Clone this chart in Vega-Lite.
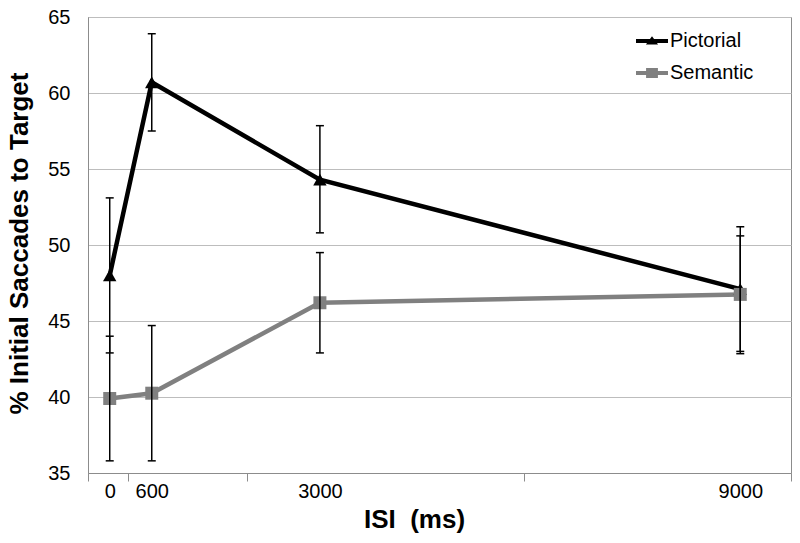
{
  "$schema": "https://vega.github.io/schema/vega-lite/v6.json",
  "width": 703,
  "height": 456,
  "autosize": {"type": "none"},
  "padding": {"left": 88, "top": 17, "right": 9, "bottom": 70},
  "config": {"font": "Liberation Sans", "view": {"stroke": "#8c8c8c", "strokeWidth": 1}},
  "data": {"values": [
    {"cond": "Pictorial", "isi": 0, "pct": 48.0, "lo": 42.9, "hi": 53.1},
    {"cond": "Pictorial", "isi": 600, "pct": 60.7, "lo": 57.5, "hi": 63.9},
    {"cond": "Pictorial", "isi": 3000, "pct": 54.3, "lo": 50.8, "hi": 57.85},
    {"cond": "Pictorial", "isi": 9000, "pct": 47.1, "lo": 43.0, "hi": 51.2},
    {"cond": "Semantic", "isi": 0, "pct": 39.9, "lo": 35.8, "hi": 44.0},
    {"cond": "Semantic", "isi": 600, "pct": 40.25, "lo": 35.8, "hi": 44.7},
    {"cond": "Semantic", "isi": 3000, "pct": 46.2, "lo": 42.9, "hi": 49.5},
    {"cond": "Semantic", "isi": 9000, "pct": 46.75, "lo": 42.85, "hi": 50.6}
  ]},
  "encoding": {
    "x": {
      "field": "isi", "type": "quantitative",
      "scale": {"domain": [-310, 9724], "nice": false, "zero": false},
      "axis": {
        "title": "ISI\u00a0 (ms)",
        "values": [-310, 0, 261, 600, 1961, 3000, 5914, 9000, 9724],
        "labelExpr": "indexof([0,600,3000,9000], datum.value) >= 0 ? '' + datum.value : ''",
        "grid": false,
        "domainColor": "#8c8c8c",
        "tickColor": "#8c8c8c",
        "tickSize": 8,
        "tickOpacity": {"condition": {"test": "indexof([0,600,3000,9000], datum.value) >= 0", "value": 0}, "value": 1},
        "labelFontSize": 20,
        "labelColor": "#000000",
        "labelFlush": false,
        "labelOverlap": false,
        "labelPadding": 0,
        "titleFontSize": 26,
        "titleFontWeight": "bold",
        "titleColor": "#000000",
        "titleBaseline": "middle",
        "titleAlign": "center",
        "titleX": 326,
        "titleY": 46
      }
    },
    "y": {
      "field": "pct", "type": "quantitative",
      "title": "% Initial Saccades to Target",
      "scale": {"domain": [35, 65], "nice": false, "zero": false},
      "axis": {
        "values": [35, 40, 45, 50, 55, 60, 65],
        "grid": true,
        "gridColor": "#bdbdbd",
        "domainColor": "#8c8c8c",
        "ticks": false,
        "labelFontSize": 20,
        "labelPadding": 18,
        "labelColor": "#000000",
        "titleFontSize": 26,
        "titleFontWeight": "bold",
        "titleColor": "#000000",
        "titleBaseline": "alphabetic",
        "titleX": -61,
        "titleY": 226
      }
    }
  },
  "layer": [
    {
      "mark": {"type": "line", "strokeWidth": 4.5},
      "encoding": {
        "color": {
          "field": "cond", "type": "nominal",
          "scale": {"domain": ["Pictorial", "Semantic"], "range": ["#000000", "#808080"]},
          "legend": {
            "orient": "none", "legendX": 548, "legendY": 8, "title": null,
            "labelFontSize": 20, "labelColor": "#000000", "labelOffset": 2,
            "symbolSize": 1024, "rowPadding": 6, "padding": 0,
            "encode": {"symbols": {"update": {
              "shape": {"signal": "datum.value === 'Pictorial' ? 'M-1,-0.125L1,-0.125L1,0.125L-1,0.125Z M-0.38,0.22L0,-0.3L0.38,0.22Z' : 'M-1,-0.125L1,-0.125L1,0.125L-1,0.125Z M-0.37,-0.32L0.37,-0.32L0.37,0.32L-0.37,0.32Z'"},
              "fill": {"signal": "datum.value === 'Pictorial' ? '#000000' : '#808080'"},
              "fillOpacity": {"value": 1},
              "strokeWidth": {"value": 0}
            }}}
          }
        }
      }
    },
    {
      "transform": [{"filter": "datum.cond === 'Pictorial'"}],
      "mark": {"type": "point", "shape": "triangle-up", "filled": true, "size": 180, "opacity": 1, "color": "#000000"}
    },
    {
      "transform": [{"filter": "datum.cond === 'Semantic'"}],
      "mark": {"type": "point", "shape": "square", "filled": true, "size": 169, "opacity": 1, "color": "#808080"}
    },
    {
      "mark": {"type": "rule", "color": "#000000", "strokeWidth": 1.5},
      "encoding": {
        "y": {"field": "lo", "type": "quantitative", "title": "% Initial Saccades to Target"},
        "y2": {"field": "hi"}
      }
    },
    {
      "mark": {"type": "tick", "orient": "horizontal", "color": "#000000", "size": 8, "thickness": 1.5, "opacity": 1},
      "encoding": {"y": {"field": "lo", "type": "quantitative", "title": "% Initial Saccades to Target"}}
    },
    {
      "mark": {"type": "tick", "orient": "horizontal", "color": "#000000", "size": 8, "thickness": 1.5, "opacity": 1},
      "encoding": {"y": {"field": "hi", "type": "quantitative", "title": "% Initial Saccades to Target"}}
    }
  ]
}
